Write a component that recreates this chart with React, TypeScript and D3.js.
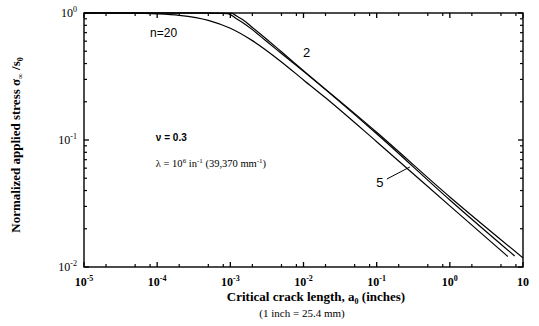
import React from "react";
import * as d3 from "d3";

// ---- data ----
const xDecades = [-5, -4, -3, -2, -1, 0, 1];
const xTickLabels = ["10", "10", "10", "10", "10", "10", "10"];
const xTickSups = ["-5", "-4", "-3", "-2", "-1", "0", ""];
const yDecades = [0, -1, -2];
const yTickSups = ["0", "-1", "-2"];
const xMinorMultipliers = [2, 5, 8];
const yMinorMultipliers = [2, 3, 4, 5, 6, 7, 8, 9];

// [crack length a0 (in), normalized stress]
const curveN2: [number, number][] = [
  [1e-5, 1], [5e-4, 1], [1.05e-3, 0.995], [1.2e-3, 0.95], [1.5e-3, 0.88],
  [2e-3, 0.77], [3e-3, 0.635], [5e-3, 0.495], [1e-2, 0.352],
  [0.1, 0.115], [1, 0.0356], [10, 0.0118],
];
const curveN5: [number, number][] = [
  [1e-5, 1], [4e-4, 1], [9.2e-4, 0.99], [1.2e-3, 0.905], [1.5e-3, 0.835],
  [2e-3, 0.74], [3e-3, 0.61], [5e-3, 0.48], [1e-2, 0.347],
  [0.1, 0.112], [1, 0.0337], [7.7, 0.0122],
];
const curveN20: [number, number][] = [
  [1e-5, 1], [5e-5, 0.997], [1e-4, 0.985], [2e-4, 0.958], [5e-4, 0.875],
  [1e-3, 0.758], [2e-3, 0.606], [5e-3, 0.412], [1e-2, 0.297], [2e-2, 0.215],
  [0.1, 0.097], [1, 0.0303], [6.2, 0.0121],
];
const curves = [curveN2, curveN5, curveN20];

// annotations in data coordinates
const labelN20: [number, number] = [8e-5, 0.647];
const label2: [number, number] = [0.011, 0.45];
const label5: [number, number] = [0.111, 0.0427];
const leader5: [number, number][] = [[0.138, 0.0493], [0.284, 0.0613]];
const nuPos: [number, number] = [9.6e-5, 0.0975];
const lambdaPos: [number, number] = [9.6e-5, 0.0614];

export default function App() {
  const W = 539, H = 326;
  const left = 84, right = 523, top = 13, bottom = 267;
  const x = d3.scaleLog().domain([1e-5, 10]).range([left, right]);
  const y = d3.scaleLog().domain([0.01, 1]).range([bottom, top]);
  const line = d3
    .line<[number, number]>()
    .x((d) => x(d[0]))
    .y((d) => y(d[1]))
    .curve(d3.curveMonotoneX);

  const xMinor: number[] = [];
  xDecades.slice(0, -1).forEach((e) =>
    xMinorMultipliers.forEach((m) => xMinor.push(m * Math.pow(10, e)))
  );
  const yMinor: number[] = [];
  yDecades.slice(1).forEach((e) =>
    yMinorMultipliers.forEach((m) => yMinor.push(m * Math.pow(10, e)))
  );

  const serif = "'Liberation Serif', 'Times New Roman', serif";
  const sans = "'Liberation Sans', Arial, sans-serif";
  const major = 5, minor = 3;

  return (
    <svg width={W} height={H} style={{ position: "absolute", left: 0, top: 0, background: "#fff" }}>
      <rect x={0} y={0} width={W} height={H} fill="#fff" />
      {/* frame */}
      <rect x={left} y={top} width={right - left} height={bottom - top} fill="none" stroke="#000" strokeWidth={1.4} />
      {/* x ticks */}
      {xDecades.map((e) => {
        const px = x(Math.pow(10, e));
        return (
          <g key={"xM" + e} stroke="#000" strokeWidth={1.3}>
            <line x1={px} x2={px} y1={bottom} y2={bottom - major} />
            <line x1={px} x2={px} y1={top} y2={top + major} />
          </g>
        );
      })}
      {xMinor.map((v, i) => (
        <g key={"xm" + i} stroke="#000" strokeWidth={1.2}>
          <line x1={x(v)} x2={x(v)} y1={bottom} y2={bottom - minor} />
          <line x1={x(v)} x2={x(v)} y1={top} y2={top + minor} />
        </g>
      ))}
      {/* y ticks */}
      {yDecades.map((e) => {
        const py = y(Math.pow(10, e));
        return (
          <g key={"yM" + e} stroke="#000" strokeWidth={1.3}>
            <line x1={left} x2={left + major} y1={py} y2={py} />
            <line x1={right} x2={right - major} y1={py} y2={py} />
          </g>
        );
      })}
      {yMinor.map((v, i) => (
        <g key={"ym" + i} stroke="#000" strokeWidth={1.2}>
          <line x1={left} x2={left + minor} y1={y(v)} y2={y(v)} />
          <line x1={right} x2={right - minor} y1={y(v)} y2={y(v)} />
        </g>
      ))}
      {/* x tick labels */}
      {xDecades.map((e, i) => (
        <text key={"xl" + e} x={x(Math.pow(10, e))} y={286} textAnchor="middle" fontFamily={serif} fontWeight="bold" fontSize={12}>
          <tspan>{xTickLabels[i]}</tspan>
          {xTickSups[i] !== "" && (
            <tspan dy={-5} fontSize={8}>{xTickSups[i]}</tspan>
          )}
        </text>
      ))}
      {/* y tick labels */}
      {yDecades.map((e, i) => (
        <text key={"yl" + e} x={77} y={y(Math.pow(10, e)) + 4} textAnchor="end" fontFamily={serif} fontSize={12}>
          <tspan>10</tspan>
          <tspan dy={-5} fontSize={8}>{yTickSups[i]}</tspan>
        </text>
      ))}
      {/* curves */}
      {curves.map((c, i) => (
        <path key={"c" + i} d={line(c) || ""} fill="none" stroke="#000" strokeWidth={1.2} />
      ))}
      {/* annotations */}
      <text x={x(labelN20[0])} y={y(labelN20[1])} fontFamily={sans} fontSize={12}>n=20</text>
      <text x={x(label2[0])} y={y(label2[1])} textAnchor="middle" fontFamily={sans} fontSize={13}>2</text>
      <text x={x(label5[0])} y={y(label5[1])} textAnchor="middle" fontFamily={sans} fontSize={13}>5</text>
      <line x1={x(leader5[0][0])} y1={y(leader5[0][1])} x2={x(leader5[1][0])} y2={y(leader5[1][1])} stroke="#000" strokeWidth={1} />
      <text x={x(nuPos[0])} y={y(nuPos[1])} fontFamily={sans} fontWeight="bold" fontSize={10}>ν = 0.3</text>
      <text x={x(lambdaPos[0])} y={y(lambdaPos[1])} fontFamily={serif} fontSize={10.5}>
        <tspan>λ = 10</tspan>
        <tspan dy={-4} fontSize={7}>6</tspan>
        <tspan dy={4}> in</tspan>
        <tspan dy={-4} fontSize={7}>-1</tspan>
        <tspan dy={4}> (39,370 mm</tspan>
        <tspan dy={-4} fontSize={7}>-1</tspan>
        <tspan dy={4}>)</tspan>
      </text>
      {/* axis titles */}
      <text x={316} y={301} textAnchor="middle" fontFamily={serif} fontWeight="bold" fontSize={13}>
        <tspan>Critical crack length, a</tspan>
        <tspan dy={3} fontSize={8}>0</tspan>
        <tspan dy={-3}> (inches)</tspan>
      </text>
      <text x={302} y={317} textAnchor="middle" fontFamily={serif} fontSize={11}>(1 inch = 25.4 mm)</text>
      <text transform="translate(20,145) rotate(-90)" textAnchor="middle" fontFamily={serif} fontWeight="bold" fontSize={13}>
        <tspan>Normalized applied stress σ</tspan>
        <tspan dy={3} fontSize={8}>∞</tspan>
        <tspan dy={-3}> /s</tspan>
        <tspan dy={3} fontSize={8}>0</tspan>
      </text>
    </svg>
  );
}
